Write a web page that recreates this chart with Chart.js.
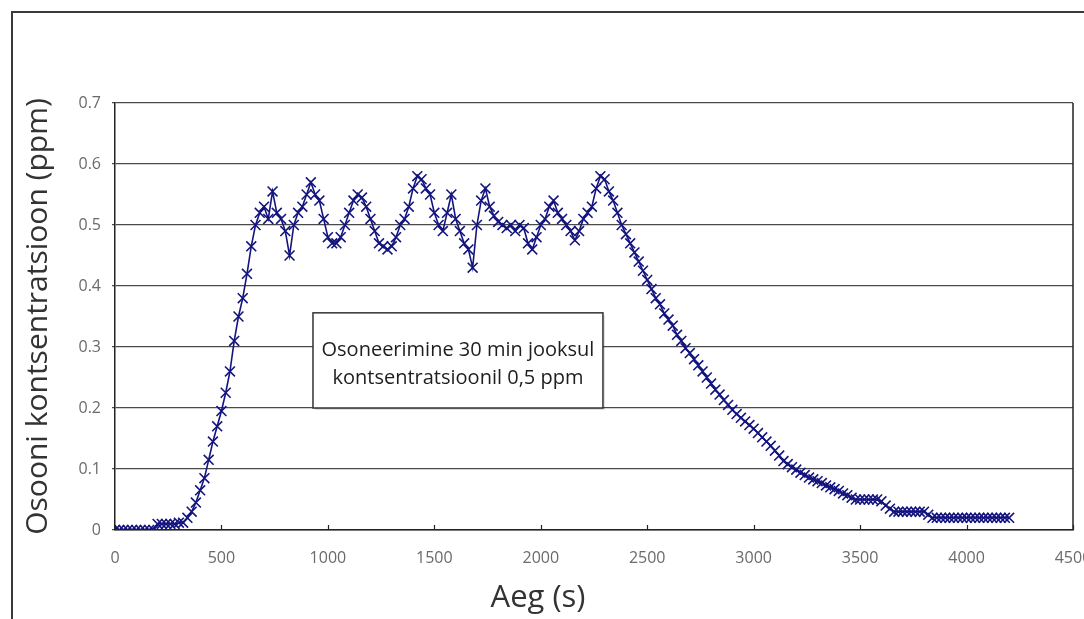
<!DOCTYPE html>
<html lang="et">
<head>
<meta charset="UTF-8">
<title>Osooni kontsentratsioon</title>
<script src="https://cdn.jsdelivr.net/npm/chart.js"></script>
<style>
  html, body { margin: 0; padding: 0; background: #fff; }
  #wrap { width: 1084px; height: 619px; }
</style>
</head>
<body>
<div id="wrap"><canvas id="ozoneChart" width="1084" height="619"></canvas></div>
<script>
const timeSec = [
  0, 20, 40, 60, 80, 100, 120, 140, 160, 180,
  200, 220, 240, 260, 280, 300, 320,
  340, 360, 380, 400, 420, 440, 460, 480, 500, 520, 540, 560, 580, 600, 620, 640, 660,
  680, 700, 720, 740, 760, 780, 800, 820, 840, 860, 880, 900, 920, 940, 960, 980, 1000,
  1020, 1040, 1060, 1080, 1100, 1120, 1140, 1160, 1180, 1200, 1220, 1240, 1260, 1280, 1300, 1320, 1340,
  1360, 1380, 1400, 1420, 1440, 1460, 1480, 1500, 1520, 1540, 1560, 1580, 1600, 1620, 1640, 1660, 1680,
  1700, 1720, 1740, 1760, 1780, 1800, 1820, 1840, 1860, 1880, 1900, 1920, 1940, 1960, 1980, 2000, 2020,
  2040, 2060, 2080, 2100, 2120, 2140, 2160, 2180, 2200, 2220, 2240, 2260, 2280, 2300, 2320, 2340, 2360,
  2380, 2400, 2420, 2440, 2460, 2480, 2500, 2520, 2540, 2560, 2580, 2600, 2620, 2640, 2660, 2680, 2700,
  2720, 2740, 2760, 2780, 2800, 2820, 2840, 2860, 2880, 2900, 2920, 2940, 2960, 2980, 3000, 3020, 3040,
  3060, 3080, 3100, 3120, 3140, 3160, 3180, 3200, 3220, 3240, 3260, 3280, 3300, 3320, 3340, 3360, 3380,
  3400, 3420, 3440, 3460, 3480, 3500, 3520, 3540, 3560, 3580, 3600, 3620, 3640, 3660, 3680, 3700, 3720,
  3740, 3760, 3780, 3800, 3820, 3840, 3860, 3880, 3900, 3920, 3940, 3960, 3980, 4000, 4020, 4040, 4060,
  4080, 4100, 4120, 4140, 4160, 4180, 4200
];
const ozonePpm = [
  0, 0, 0, 0, 0, 0, 0, 0, 0, 0,
  0.01, 0.01, 0.01, 0.01, 0.01, 0.012, 0.012,
  0.02, 0.03, 0.045, 0.065, 0.085, 0.115, 0.145, 0.17, 0.195, 0.225, 0.26, 0.31, 0.35, 0.38, 0.42, 0.465, 0.5,
  0.52, 0.53, 0.51, 0.555, 0.52, 0.51, 0.49, 0.45, 0.5, 0.52, 0.53, 0.55, 0.57, 0.55, 0.54, 0.51, 0.48,
  0.47, 0.47, 0.48, 0.5, 0.52, 0.54, 0.55, 0.545, 0.53, 0.51, 0.49, 0.47, 0.465, 0.46, 0.465, 0.48, 0.5,
  0.51, 0.53, 0.56, 0.58, 0.575, 0.56, 0.55, 0.52, 0.5, 0.49, 0.52, 0.55, 0.51, 0.49, 0.47, 0.46, 0.43,
  0.5, 0.54, 0.56, 0.53, 0.515, 0.505, 0.5, 0.495, 0.5, 0.49, 0.5, 0.495, 0.47, 0.46, 0.48, 0.5, 0.51,
  0.53, 0.54, 0.52, 0.51, 0.5, 0.49, 0.475, 0.49, 0.51, 0.52, 0.53, 0.56, 0.58, 0.575, 0.555, 0.54, 0.52,
  0.5, 0.485, 0.47, 0.455, 0.44, 0.425, 0.41, 0.395, 0.38, 0.37, 0.355, 0.345, 0.335, 0.32, 0.31, 0.298, 0.29,
  0.28, 0.27, 0.26, 0.25, 0.24, 0.23, 0.222, 0.213, 0.205, 0.197, 0.19, 0.184, 0.178, 0.172, 0.166, 0.159, 0.152,
  0.145, 0.138, 0.13, 0.122, 0.113, 0.108, 0.103, 0.099, 0.094, 0.09, 0.086, 0.083, 0.08, 0.077, 0.073, 0.07, 0.067,
  0.064, 0.06, 0.057, 0.053, 0.05, 0.05, 0.05, 0.05, 0.05, 0.05, 0.047, 0.04, 0.035, 0.03, 0.03, 0.03, 0.03,
  0.03, 0.03, 0.03, 0.03, 0.025, 0.02, 0.02, 0.02, 0.02, 0.02, 0.02, 0.02, 0.02, 0.02, 0.02, 0.02, 0.02,
  0.02, 0.02, 0.02, 0.02, 0.02, 0.02, 0.02
];
const xTickValues = [0, 500, 1000, 1500, 2000, 2500, 3000, 3500, 4000, 4500];
const yTickValues = [0, 0.1, 0.2, 0.3, 0.4, 0.5, 0.6, 0.7];
const xTitle = 'Aeg (s)';
const yTitle = 'Osooni kontsentratsioon (ppm)';
const noteLines = ['Osoneerimine 30 min jooksul', 'kontsentratsioonil 0,5 ppm'];

const points = timeSec.map((t, i) => ({ x: t, y: ozonePpm[i] }));

// frame, plot border, inner x ticks, text box and x title
const decorations = {
  id: 'decorations',
  beforeDraw(chart) {
    const ctx = chart.ctx;
    ctx.save();
    ctx.fillStyle = '#fff';
    ctx.fillRect(0, 0, chart.width, chart.height);
    ctx.strokeStyle = '#3a3a3a';
    ctx.lineWidth = 2;
    ctx.beginPath();
    ctx.moveTo(12, chart.height);
    ctx.lineTo(12, 12);
    ctx.lineTo(chart.width, 12);
    ctx.stroke();
    ctx.restore();
  },
  afterDraw(chart) {
    const ctx = chart.ctx;
    const area = chart.chartArea;
    const xs = chart.scales.x;
    const ys = chart.scales.y;
    ctx.save();
    ctx.strokeStyle = '#222';
    ctx.lineWidth = 1.5;
    ctx.beginPath();
    ctx.moveTo(area.right, area.top);
    ctx.lineTo(area.right, area.bottom);
    ctx.stroke();

    ctx.lineWidth = 1.2;
    xTickValues.forEach(v => {
      const px = Math.round(xs.getPixelForValue(v)) + 0.5;
      ctx.beginPath();
      ctx.moveTo(px, area.bottom);
      ctx.lineTo(px, area.bottom - 5);
      ctx.stroke();
    });

    // annotation box
    const bx1 = xs.getPixelForValue(930), bx2 = xs.getPixelForValue(2292);
    const by1 = ys.getPixelForValue(0.356), by2 = ys.getPixelForValue(0.2);
    ctx.fillStyle = 'rgba(0,0,0,0.12)';
    ctx.fillRect(bx1 + 2, by1 + 2, bx2 - bx1, by2 - by1);
    ctx.fillStyle = '#fff';
    ctx.fillRect(bx1, by1, bx2 - bx1, by2 - by1);
    ctx.strokeStyle = '#333';
    ctx.lineWidth = 1.5;
    ctx.strokeRect(bx1, by1, bx2 - bx1, by2 - by1);
    ctx.fillStyle = '#1e1e1e';
    ctx.font = '20px "Open Sans"';
    ctx.textAlign = 'center';
    ctx.textBaseline = 'middle';
    const cx = (bx1 + bx2) / 2;
    ctx.fillText(noteLines[0], cx, by1 + 37);
    ctx.fillText(noteLines[1], cx, by1 + 65);

    // x axis title
    ctx.fillStyle = '#333';
    ctx.font = '31px "Open Sans"';
    ctx.fillText(xTitle, 538, 598);
    ctx.restore();
  }
};

new Chart(document.getElementById('ozoneChart'), {
  type: 'scatter',
  data: {
    datasets: [{
      label: 'Osoon',
      data: points,
      showLine: true,
      borderColor: '#14147f',
      backgroundColor: '#14147f',
      borderWidth: 1.6,
      pointStyle: 'crossRot',
      pointRadius: 7,
      pointBorderWidth: 1.6,
      pointHoverRadius: 7,
      tension: 0
    }]
  },
  options: {
    responsive: false,
    animation: false,
    layout: { padding: { left: 0, top: 103, right: 11, bottom: 0 } },
    plugins: {
      legend: { display: false },
      tooltip: { enabled: false }
    },
    scales: {
      x: {
        type: 'linear',
        min: 0,
        max: 4500,
        afterBuildTicks: s => { s.ticks = xTickValues.map(v => ({ value: v })); },
        afterFit: s => { s.height = 89; s.paddingLeft = 0; s.paddingRight = 0; },
        grid: { display: false, drawTicks: false },
        border: { display: true, color: '#222', width: 1.5 },
        ticks: {
          padding: 19,
          color: '#6a6a6a',
          font: { family: 'Open Sans', size: 16 },
          maxRotation: 0,
          autoSkip: false,
          callback: v => String(v)
        }
      },
      y: {
        min: 0,
        max: 0.7,
        afterBuildTicks: s => { s.ticks = yTickValues.map(v => ({ value: v })); },
        afterFit: s => { s.width = 115; s.paddingTop = 0; s.paddingBottom = 0; },
        grid: { color: '#4a4a4a', lineWidth: 1.3, tickLength: 3 },
        border: { display: true, color: '#222', width: 1.5 },
        ticks: {
          padding: 11,
          color: '#6a6a6a',
          font: { family: 'Open Sans', size: 16 },
          callback: v => String(+v.toFixed(1))
        },
        title: {
          display: true,
          text: yTitle,
          color: '#333',
          font: { family: 'Open Sans', size: 30 },
          padding: { top: 20, bottom: 0 }
        }
      }
    }
  },
  plugins: [decorations]
});
</script>
</body>
</html>
